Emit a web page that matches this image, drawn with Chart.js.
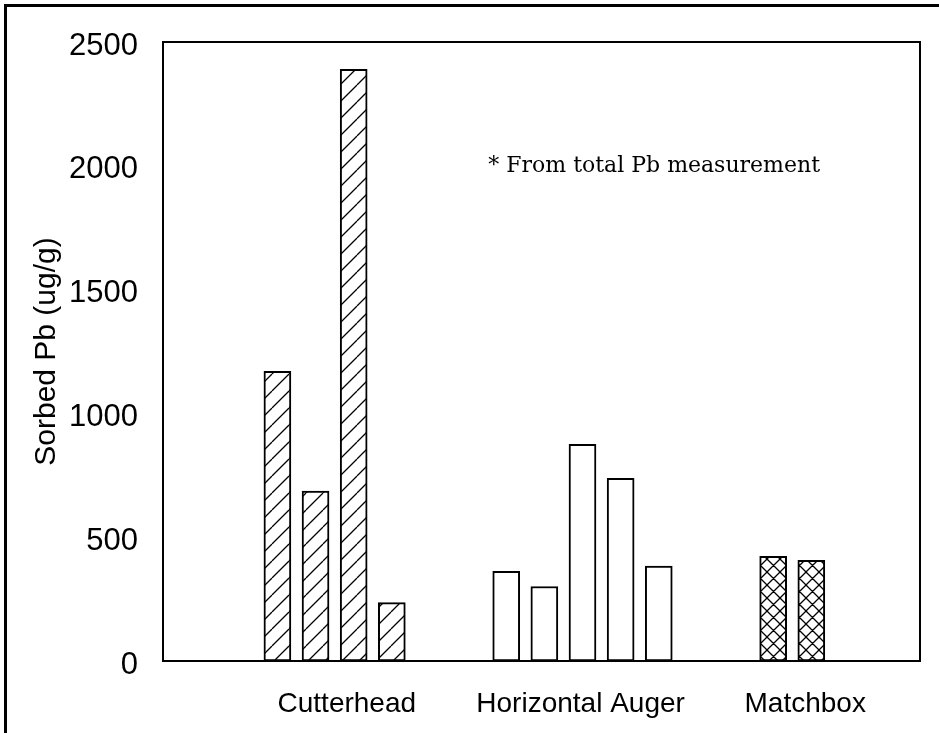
<!DOCTYPE html>
<html><head><meta charset="utf-8">
<script src="https://cdn.jsdelivr.net/npm/chart.js@4"></script>
<style>html,body{margin:0;padding:0;background:#fff}#wrap{width:939px;height:733px;position:relative}</style>
</head><body><div id="wrap"><canvas id="c"></canvas></div>
<script>
// ---- data ----
const categories = ['Cutterhead', 'Horizontal Auger', 'Matchbox'];
const cutterheadPb = [1170, 686, 2390, 236];
const horizontalAugerPb = [362, 301, 875, 738, 383];
const matchboxPb = [423, 407];
const yTickValues = [0, 500, 1000, 1500, 2000, 2500];
const yAxisTitle = 'Sorbed Pb (ug/g)';
const noteText = '* From total Pb measurement';

// ---- layout (slot positions of each group on the x axis) ----
const groupStart = [3, 9, 16];
const labelShift = [0.32, -0.05, 0.34];
const xMax = 19.85;
const noteAt = { x: 8.53, y: 2000 };

function makePattern(kind) {
  const s = kind === 'cross' ? 13 : 17;
  const c = document.createElement('canvas');
  c.width = s; c.height = s;
  const g = c.getContext('2d');
  g.fillStyle = '#fff'; g.fillRect(0, 0, s, s);
  g.strokeStyle = '#000'; g.lineWidth = 1.3;
  g.beginPath();
  for (const o of [-s, 0, s]) {
    g.moveTo(o, s); g.lineTo(o + s, 0);
    if (kind === 'cross') { g.moveTo(o, 0); g.lineTo(o + s, s); }
  }
  g.stroke();
  return document.createElement('canvas').getContext('2d').createPattern(c, 'repeat');
}

const seriesList = [cutterheadPb, horizontalAugerPb, matchboxPb];
const fills = [makePattern('hatch'), '#ffffff', makePattern('cross')];

const datasets = seriesList.map((vals, g) => ({
  label: categories[g],
  data: vals.map((v, i) => ({ x: groupStart[g] + i, y: v })),
  backgroundColor: fills[g],
  borderColor: '#000',
  borderWidth: 2,
  borderSkipped: false,
  barThickness: 27,
  grouped: false
}));

function groupCenter(g) {
  return groupStart[g] + (seriesList[g].length - 1) / 2 + labelShift[g];
}

const framePlugin = {
  id: 'frame',
  beforeDraw(chart) {
    const ctx = chart.ctx;
    ctx.save();
    ctx.fillStyle = '#fff';
    ctx.fillRect(0, 0, chart.width, chart.height);
    ctx.fillStyle = '#000';
    ctx.fillRect(4, 4, 3, chart.height - 4);
    ctx.fillRect(4, 4, chart.width - 4, 3);
    ctx.restore();
  },
  afterDatasetsDraw(chart) {
    const { ctx, chartArea: a, scales } = chart;
    ctx.save();
    ctx.strokeStyle = '#000';
    ctx.lineWidth = 2;
    ctx.strokeRect(a.left, a.top, a.right - a.left, a.bottom - a.top);
    ctx.fillStyle = '#000';
    ctx.font = '22px "DejaVu Serif", serif';
    ctx.textAlign = 'left';
    ctx.textBaseline = 'middle';
    ctx.fillText(noteText, scales.x.getPixelForValue(noteAt.x), scales.y.getPixelForValue(noteAt.y));
    ctx.restore();
  }
};

new Chart(document.getElementById('c'), {
  type: 'bar',
  data: { datasets },
  plugins: [framePlugin],
  options: {
    responsive: true,
    maintainAspectRatio: false,
    devicePixelRatio: 1,
    animation: false,
    layout: { padding: { left: 8, top: 42, right: 19, bottom: 0 } },
    plugins: { legend: { display: false }, tooltip: { enabled: false } },
    scales: {
      x: {
        type: 'linear',
        offset: false,
        min: 0,
        max: xMax,
        grid: { display: false, drawTicks: false, offset: false },
        border: { display: false },
        afterBuildTicks: s => { s.ticks = categories.map((c, g) => ({ value: groupCenter(g) })); },
        afterFit: s => { s.height = 72; },
        ticks: {
          autoSkip: false,
          maxRotation: 0,
          padding: 26,
          color: '#000',
          font: { family: '"Liberation Sans", Arial, sans-serif', size: 28 },
          callback: (v, i) => categories[i]
        }
      },
      y: {
        min: 0,
        max: 2500,
        grid: { display: false, drawTicks: false },
        border: { display: false },
        afterBuildTicks: s => { s.ticks = yTickValues.map(v => ({ value: v })); },
        afterFit: s => { s.width = 155; },
        ticks: {
          padding: 25,
          labelOffset: 4,
          color: '#000',
          font: { family: '"Liberation Sans", Arial, sans-serif', size: 31, lineHeight: 1 },
          callback: v => String(v)
        },
        title: {
          display: true,
          text: yAxisTitle,
          color: '#000',
          padding: { top: 21, bottom: 0 },
          font: { family: '"Liberation Sans", Arial, sans-serif', size: 30 }
        }
      }
    }
  }
});
</script>
</body></html>
